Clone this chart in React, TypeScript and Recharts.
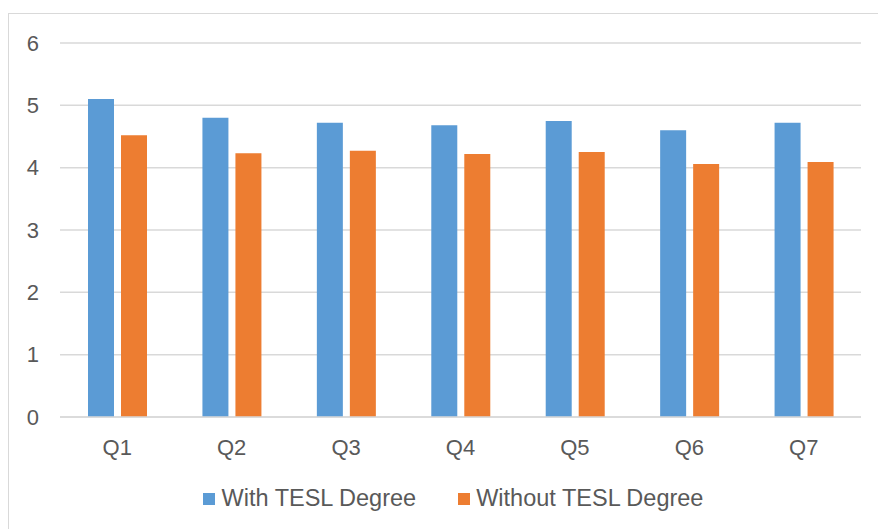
import { BarChart, Bar, XAxis, YAxis, CartesianGrid, Legend } from 'recharts';

const categories = ['Q1', 'Q2', 'Q3', 'Q4', 'Q5', 'Q6', 'Q7'];
const withTesl = [5.1, 4.8, 4.72, 4.68, 4.75, 4.6, 4.72];
const withoutTesl = [4.52, 4.23, 4.27, 4.22, 4.25, 4.06, 4.09];
const yTicks = [0, 1, 2, 3, 4, 5, 6];

const data = categories.map((name, i) => ({
  name,
  with: withTesl[i],
  without: withoutTesl[i],
}));

const BLUE = '#5B9BD5';
const ORANGE = '#ED7D31';
const TEXT = '#595959';
const FONT = '"Liberation Sans", Arial, sans-serif';

const LegendContent = () => (
  <div
    style={{
      display: 'flex',
      justifyContent: 'center',
      alignItems: 'center',
      fontFamily: FONT,
      fontSize: 23.5,
      color: TEXT,
      paddingLeft: 28,
    }}
  >
    <span style={{ width: 12, height: 12, background: BLUE, marginRight: 7 }} />
    <span style={{ marginRight: 42 }}>With TESL Degree</span>
    <span style={{ width: 12, height: 12, background: ORANGE, marginRight: 6 }} />
    <span>Without TESL Degree</span>
  </div>
);

const App = () => {
  return (
    <div style={{ position: 'absolute', left: 0, top: 0, width: 878, height: 529, background: '#fff' }}>
      <div
        style={{
          position: 'absolute',
          left: 8,
          top: 13,
          width: 880,
          height: 540,
          border: '1px solid #d9d9d9',
        }}
      />
      <BarChart
        width={878}
        height={529}
        data={data}
        margin={{ top: 43, right: 17, bottom: 82, left: 0 }}
        barCategoryGap="24%"
        barGap={7}
        style={{ position: 'absolute', left: 0, top: 0 }}
      >
        <CartesianGrid vertical={false} stroke="#d9d9d9" strokeWidth={1.5} />
        <XAxis
          dataKey="name"
          height={30}
          tickLine={false}
          tickSize={0}
          tickMargin={22}
          axisLine={{ stroke: '#d9d9d9', strokeWidth: 1.5 }}
          tick={{ fill: TEXT, fontSize: 22, fontFamily: FONT }}
        />
        <YAxis
          width={60}
          domain={[0, 6]}
          ticks={yTicks}
          axisLine={false}
          tickLine={false}
          tickSize={0}
          tickMargin={21}
          tick={{ fill: TEXT, fontSize: 22, fontFamily: FONT }}
        />
        <Legend
          layout="horizontal"
          verticalAlign="middle"
          align="center"
          content={<LegendContent />}
          wrapperStyle={{ top: 485, left: 0, width: 878 }}
        />
        <Bar dataKey="with" name="With TESL Degree" fill={BLUE} barSize={26} isAnimationActive={false} />
        <Bar dataKey="without" name="Without TESL Degree" fill={ORANGE} barSize={26} isAnimationActive={false} />
      </BarChart>
    </div>
  );
};

export default App;
